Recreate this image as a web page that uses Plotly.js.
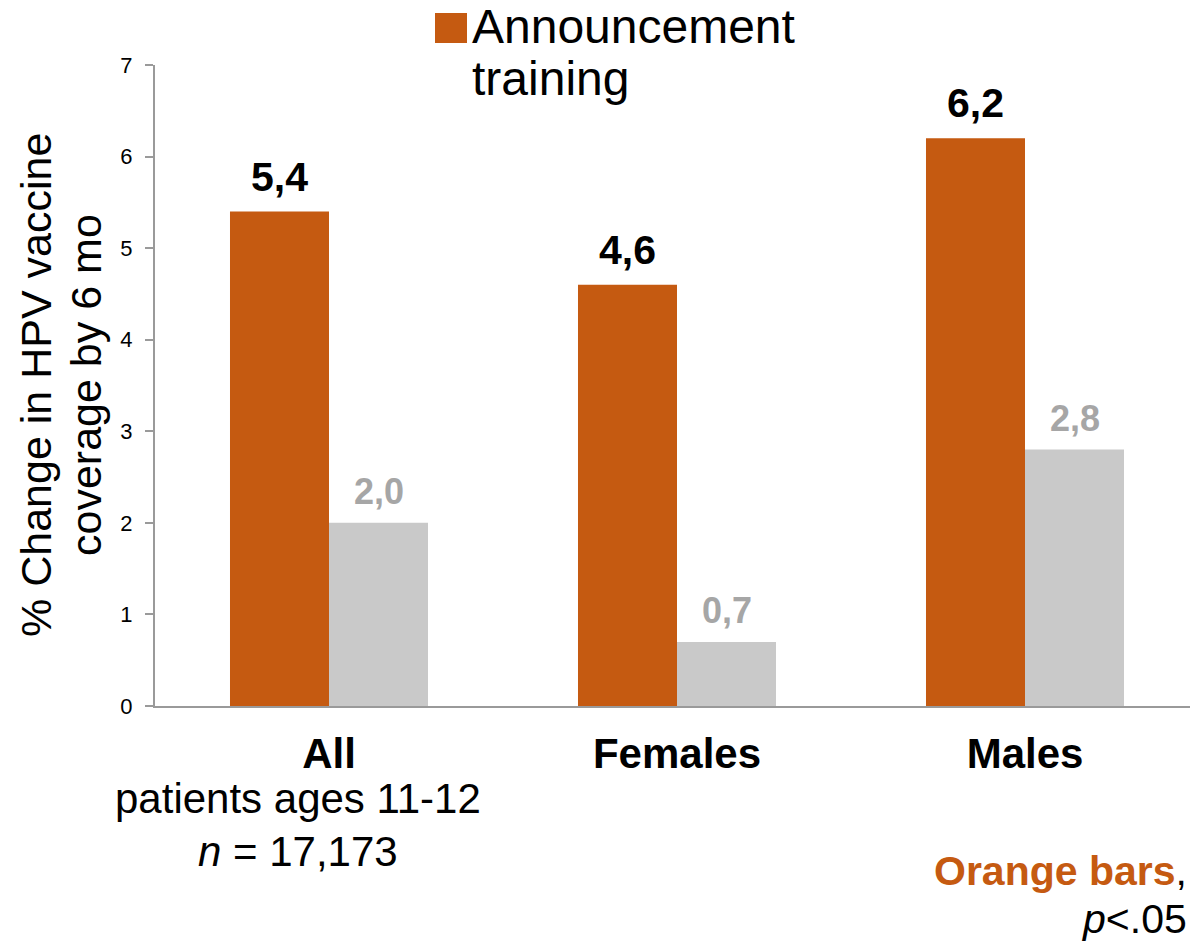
<!DOCTYPE html>
<html>
<head>
<meta charset="utf-8">
<script src="https://cdn.plot.ly/plotly-3.0.1.min.js"></script>
<style>
  html, body { margin: 0; padding: 0; background: #ffffff; }
  #chart { width: 1190px; height: 946px; }
</style>
</head>
<body>
<div id="chart"></div>
<script>
// Change in HPV vaccine coverage by 6 months, by patient group
const categories = ['All', 'Females', 'Males'];
const categoryLabels = ['<b>All</b>', '<b>Females</b>', '<b>Males</b>'];
const announcementValues = [5.4, 4.6, 6.2];
const comparisonValues = [2.0, 0.7, 2.8];
const yTickValues = [0, 1, 2, 3, 4, 5, 6, 7];
const legendLines = ['Announcement', 'training'];
const yTitleLines = ['% Change in HPV vaccine', 'coverage by 6 mo'];
const allSubLines = ['patients ages 11-12', '<i>n</i> = 17,173'];
const noteLines = ['<b><span style="color:#C55A11">Orange bars</span></b>,', '<i>p</i>&lt;.05'];

const ORANGE = '#C55A11';
const GREY = '#C9C9C9';
const GREY_TEXT = '#A6A6A6';
const FONT = 'Liberation Sans, Arial, Helvetica, sans-serif';

const W = 1190, H = 946;
const M = { l: 155, r: 0, t: 65, b: 240 };
const plotW = W - M.l - M.r, plotH = H - M.t - M.b;
const px2x = px => (px - M.l) / plotW;
const px2y = py => (H - M.b - py) / plotH;

const bargap = 0.431;
const halfOffset = (1 - bargap) / 4;
const fmt = v => v.toFixed(1).replace('.', ',');

const traces = [
  {
    type: 'bar', name: 'Announcement training',
    x: categories, y: announcementValues,
    marker: { color: ORANGE }, hoverinfo: 'x+y', showlegend: false
  },
  {
    type: 'bar', name: 'Comparison',
    x: categories, y: comparisonValues,
    marker: { color: GREY }, hoverinfo: 'x+y', showlegend: false
  }
];

const annotations = [];

// value labels above bars
announcementValues.forEach((v, i) => {
  annotations.push({
    x: i - halfOffset, y: v, xref: 'x', yref: 'y',
    text: '<b>' + fmt(v) + '</b>', showarrow: false,
    xanchor: 'center', yanchor: 'middle', yshift: 35,
    font: { family: FONT, size: 41, color: '#000000' }
  });
});
comparisonValues.forEach((v, i) => {
  annotations.push({
    x: i + halfOffset, y: v, xref: 'x', yref: 'y',
    text: '<b>' + fmt(v) + '</b>', showarrow: false,
    xanchor: 'center', yanchor: 'middle', yshift: 31,
    font: { family: FONT, size: 36, color: GREY_TEXT }
  });
});

// y-axis title, two lines
const yTitleX = [36, 86];
yTitleLines.forEach((t, i) => {
  annotations.push({
    x: px2x(yTitleX[i]), y: px2y(385), xref: 'paper', yref: 'paper',
    text: t, showarrow: false, textangle: -90,
    xanchor: 'center', yanchor: 'middle',
    font: { family: FONT, size: 43, color: '#000000' }
  });
});

// legend text
const legendY = [26, 78];
legendLines.forEach((t, i) => {
  annotations.push({
    x: px2x(470), y: px2y(legendY[i]), xref: 'paper', yref: 'paper',
    text: t, showarrow: false, xanchor: 'left', yanchor: 'middle',
    font: { family: FONT, size: 48, color: '#000000' }
  });
});

// extra lines under the "All" category
const subY = [799, 851];
allSubLines.forEach((t, i) => {
  annotations.push({
    x: px2x(298), y: px2y(subY[i]), xref: 'paper', yref: 'paper',
    text: t, showarrow: false, xanchor: 'center', yanchor: 'middle',
    font: { family: FONT, size: 42, color: '#000000' }
  });
});

// significance note, bottom right
const noteY = [871, 919];
noteLines.forEach((t, i) => {
  annotations.push({
    x: px2x(1189), y: px2y(noteY[i]), xref: 'paper', yref: 'paper',
    text: t, showarrow: false, xanchor: 'right', yanchor: 'middle',
    font: { family: FONT, size: 41, color: '#000000' }
  });
});

const layout = {
  width: W, height: H,
  margin: M,
  paper_bgcolor: '#ffffff', plot_bgcolor: '#ffffff',
  font: { family: FONT, color: '#000000' },
  barmode: 'group', bargap: bargap, bargroupgap: 0,
  showlegend: false,
  xaxis: {
    type: 'category',
    range: [-0.5, -0.5 + plotW / 348],
    tickmode: 'array', tickvals: categories, ticktext: categoryLabels,
    tickfont: { family: FONT, size: 42, color: '#000000' },
    ticks: '', showgrid: false, zeroline: false,
    showline: true, linecolor: '#9A9A9A', linewidth: 2,
    ticklabelstandoff: 10, fixedrange: true
  },
  yaxis: {
    range: [0, 7],
    tickmode: 'array', tickvals: yTickValues,
    tickfont: { family: FONT, size: 22, color: '#000000' },
    ticks: 'outside', ticklen: 8, tickwidth: 2, tickcolor: '#9A9A9A',
    showgrid: false, zeroline: false,
    showline: true, linecolor: '#9A9A9A', linewidth: 2,
    ticklabelstandoff: 8, fixedrange: true
  },
  shapes: [
    {
      type: 'rect', xref: 'paper', yref: 'paper',
      x0: px2x(435), x1: px2x(467), y0: px2y(43), y1: px2y(13),
      fillcolor: ORANGE, line: { width: 0 }
    }
  ],
  annotations: annotations
};

Plotly.newPlot('chart', traces, layout, { displayModeBar: false, staticPlot: true });
</script>
</body>
</html>
